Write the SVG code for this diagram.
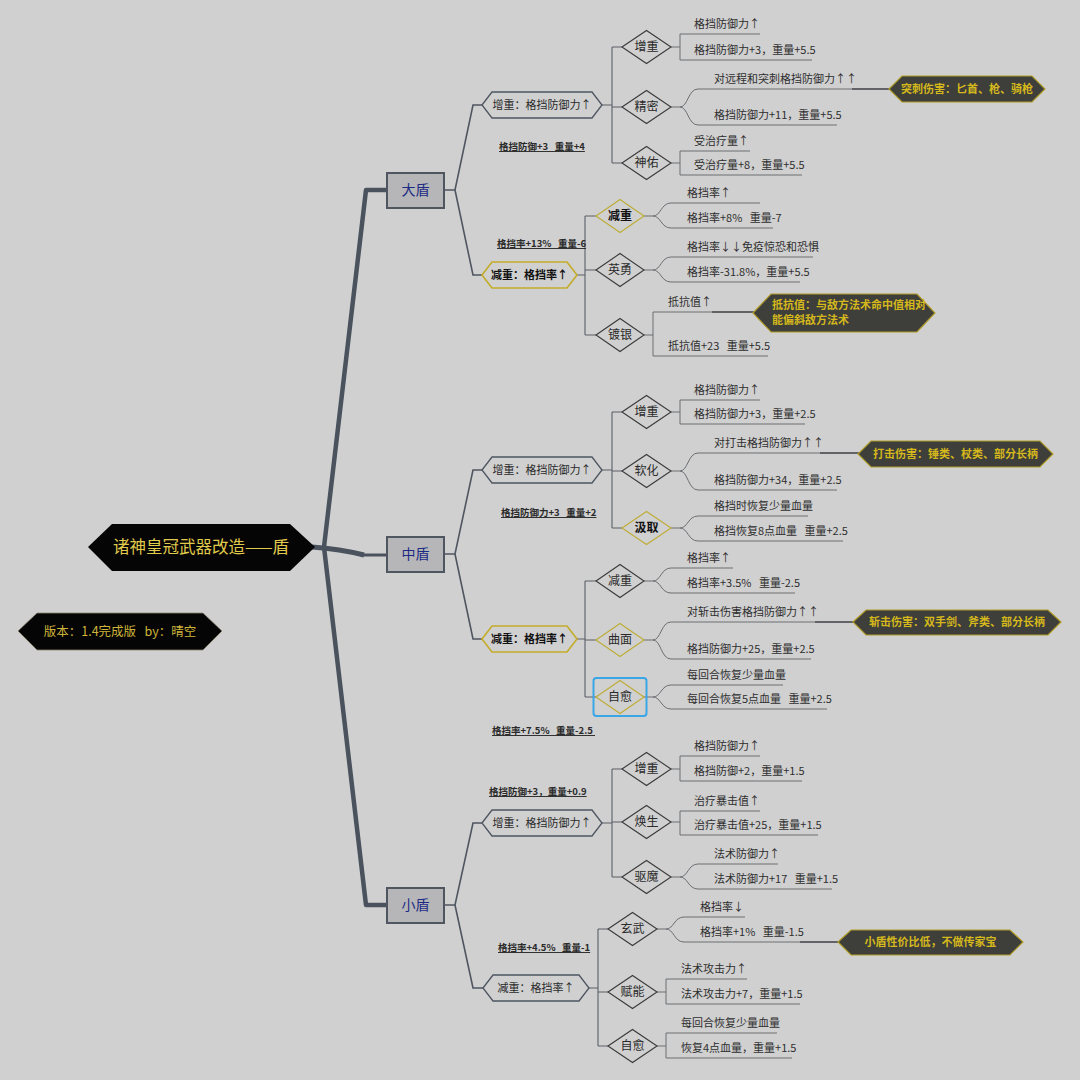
<svg xmlns="http://www.w3.org/2000/svg" width="1080" height="1080" viewBox="0 0 1080 1080">
<style>
text{font-family:"Noto Sans CJK SC","Noto Sans",sans-serif;white-space:pre}
.t{font-size:11px;fill:#2e2e2e}
.hx{fill:#d0d0d0;stroke:#4e5560;stroke-width:1.3}
.hxg{fill:#d0d0d0;stroke:#c2ac28;stroke-width:1.6}
.dm{fill:#d0d0d0;stroke:#3a3a3a;stroke-width:1.1}
.dmg{fill:#d0d0d0;stroke:#bfad3a;stroke-width:1.2}
.dt{font-size:12px;fill:#2a2a2a;text-anchor:middle}
.db{font-size:12px;fill:#111;font-weight:bold;text-anchor:middle}
.ht{font-size:11px;fill:#2a2a2a;text-anchor:middle}
.hb{font-size:11px;fill:#111;font-weight:bold;text-anchor:middle}
.lb{font-size:9.5px;fill:#2a2a2a;font-weight:bold;text-decoration:underline}
.box{fill:#b6b6b8;stroke:#4f5660;stroke-width:2}
.bt{font-size:14px;fill:#1c2c84;text-anchor:middle}
.co{fill:#3e3e3b;stroke:#b09c28;stroke-width:1.2}
.ct{font-size:11px;fill:#d4b81c;font-weight:bold}
.l1{fill:none;stroke:#4f5660;stroke-width:1.6}
.l2{fill:none;stroke:#5a5f66;stroke-width:1.1}
.lf{fill:none;stroke:#6b6e72;stroke-width:1}
.dk{fill:none;stroke:#3c3f44;stroke-width:1.5}
</style>
<rect width="1080" height="1080" fill="#d0d0d0"/>

<g id="connectors">
  <path d="M324,547 L366,190 L387,190" fill="none" stroke="#4a525e" stroke-width="4.5" stroke-linejoin="round"/>
  <path d="M324,547 L366,905 L387,905" fill="none" stroke="#4a525e" stroke-width="4.5" stroke-linejoin="round"/>
  <path d="M312,547 Q340,549 364,555" fill="none" stroke="#4a525e" stroke-width="5"/>
  <path d="M362,555 L387,555" fill="none" stroke="#4a525e" stroke-width="3"/>
  <path class="l1" d="M444,190 L455,190 L473,105 L482,105 M455,190 L473,275 L482,275"/>
  <path class="l1" d="M444,554 L455,554 L473,470 L482,470 M455,554 L473,639 L482,639"/>
  <path class="l1" d="M444,905 L455,905 L473,823 L482,823 M455,905 L473,988 L483,988"/>
  <path class="l2" d="M602,105 L612,105 M612,47 L612,163 M612,47 L622,47 M612,107 L622,107 M612,163 L622,163"/>
  <path class="l2" d="M577,275 L585,275 M585,216 L585,335 M585,216 L596,216 M585,270 L596,270 M585,335 L596,335"/>
  <path class="l2" d="M602,470 L612,470 M612,412 L612,528 M612,412 L622,412 M612,471 L622,471 M612,528 L622,528"/>
  <path class="l2" d="M577,639 L585,639 M585,581 L585,697 M585,581 L596,581 M585,640 L596,640 M585,697 L596,697"/>
  <path class="l2" d="M602,823 L612,823 M612,769 L612,877 M612,769 L622,769 M612,822 L622,822 M612,877 L622,877"/>
  <path class="l2" d="M589,988 L598,988 M598,929 L598,1046 M598,929 L608,929 M598,992 L608,992 M598,1046 L608,1046"/>

  <path class="lf" d="M671,47 L680,47 M680,34 L680,60 M680,34 L760,34 M680,60 L812,60"/>
  <path class="lf" d="M671,107 L680,107 C688,107 688,89 698,89 L852,89 M680,107 C688,107 688,125 698,125 L837,125"/>
  <path class="dk" d="M852,89 L890,89"/>
  <path class="lf" d="M671,163 L680,163 M680,151 L680,175 M680,151 L750,151 M680,175 L802,175"/>
  <path class="lf" d="M644,216 L653,216 C661,216 661,203 671,203 L760,203 M653,216 C661,216 661,228 671,228 L773,228"/>
  <path class="lf" d="M644,270 L653,270 C661,270 661,257 671,257 L813,257 M653,270 C661,270 661,282 671,282 L800,282"/>
  <path class="lf" d="M644,335 L653,335 M653,312 L653,356 M653,312 L712,312 M653,356 L768,356"/>
  <path class="dk" d="M712,312 L754,312"/>
  <path class="lf" d="M671,412 L680,412 M680,400 L680,424 M680,400 L760,400 M680,424 L805,424"/>
  <path class="lf" d="M671,471 L680,471 C688,471 688,453 698,453 L820,453 M680,471 C688,471 688,490 698,490 L837,490"/>
  <path class="dk" d="M820,453 L859,453"/>
  <path class="lf" d="M671,528 L680,528 C688,528 688,516 698,516 L808,516 M680,528 C688,528 688,541 698,541 L843,541"/>
  <path class="lf" d="M644,581 L653,581 C661,581 661,568 671,568 L733,568 M653,581 C661,581 661,593 671,593 L795,593"/>
  <path class="lf" d="M644,640 L653,640 C661,640 661,622 671,622 L815,622 M653,640 C661,640 661,659 671,659 L811,659"/>
  <path class="dk" d="M815,622 L854,622"/>
  <path class="lf" d="M644,697 L653,697 C661,697 661,685 671,685 L783,685 M653,697 C661,697 661,709 671,709 L827,709"/>
  <path class="lf" d="M671,769 L680,769 M680,756 L680,781 M680,756 L760,756 M680,781 L802,781"/>
  <path class="lf" d="M671,822 L680,822 M680,811 L680,835 M680,811 L760,811 M680,835 L818,835"/>
  <path class="lf" d="M671,877 L680,877 C688,877 688,864 698,864 L778,864 M680,877 C688,877 688,889 698,889 L832,889"/>
  <path class="lf" d="M657,929 L666,929 C674,929 674,917 684,917 L745,917 M666,929 C674,929 674,942 684,942 L800,942"/>
  <path class="dk" d="M800,942 L839,942"/>
  <path class="lf" d="M657,992 L666,992 M666,979 L666,1004 M666,979 L747,979 M666,1004 L800,1004"/>
  <path class="lf" d="M657,1046 L666,1046 M666,1033 L666,1058 M666,1033 L777,1033 M666,1058 L792,1058"/>
</g>

<g id="root">
  <polygon points="88,547 112,524 290,524 315,547 290,571 112,571" fill="#050505"/>
  <text x="201" y="553" font-size="16.5" fill="#e0cb4c" text-anchor="middle">诸神皇冠武器改造——盾</text>
</g>
<g id="version">
  <polygon points="18,631 37,613 203,613 222,631 203,650 37,650" fill="#050505" stroke="#8a8470" stroke-width="0.8"/>
  <text x="120" y="636" font-size="12.5" fill="#cdb43a" text-anchor="middle">版本：1.4完成版   by：晴空</text>
</g>

<g id="dadun"><rect class="box" x="387" y="173" width="57" height="35"/><text class="bt" x="415.5" y="195">大盾</text></g>
<g id="zhongdun"><rect class="box" x="387" y="537" width="57" height="35"/><text class="bt" x="415.5" y="559">中盾</text></g>
<g id="xiaodun"><rect class="box" x="387" y="888" width="57" height="35"/><text class="bt" x="415.5" y="910">小盾</text></g>

<g id="d-zz"><polygon class="hx" points="482,105 492,92 592,92 602,105 592,118 492,118"/><text class="ht" x="542" y="109">增重：格挡防御力↑</text></g>
<g id="d-zz-lbl"><text class="lb" x="499" y="150">格挡防御+3   重量+4</text></g>
<g id="d-jz"><polygon class="hxg" points="482,275 492,262 567,262 577,275 567,288 492,288"/><text class="hb" x="529.5" y="279">减重：格挡率↑</text></g>
<g id="d-jz-lbl"><text class="lb" x="497" y="247">格挡率+13%   重量-6</text></g>

<g id="d-zz1"><polygon class="dm" points="622,47 646.5,30.5 671,47 646.5,63.5"/><text class="dt" x="646.5" y="51">增重</text>
  <text class="t" x="694" y="28">格挡防御力↑</text><text class="t" x="694" y="54">格挡防御力+3，重量+5.5</text></g>
<g id="d-jm"><polygon class="dm" points="622,107 646.5,90.5 671,107 646.5,123.5"/><text class="dt" x="646.5" y="111">精密</text>
  <text class="t" x="714" y="83">对远程和突刺格挡防御力↑↑</text><text class="t" x="714" y="119">格挡防御力+11，重量+5.5</text></g>
<g id="d-sy"><polygon class="dm" points="622,163 646.5,146.5 671,163 646.5,179.5"/><text class="dt" x="646.5" y="167">神佑</text>
  <text class="t" x="694" y="145">受治疗量↑</text><text class="t" x="694" y="169">受治疗量+8，重量+5.5</text></g>
<g id="d-jz1"><polygon class="dmg" points="596,216 620,199.5 644,216 620,232.5"/><text class="db" x="620" y="220">减重</text>
  <text class="t" x="687" y="197">格挡率↑</text><text class="t" x="687" y="222">格挡率+8%   重量-7</text></g>
<g id="d-yy"><polygon class="dm" points="596,270 620,253.5 644,270 620,286.5"/><text class="dt" x="620" y="274">英勇</text>
  <text class="t" x="687" y="251">格挡率↓↓免疫惊恐和恐惧</text><text class="t" x="687" y="276">格挡率-31.8%，重量+5.5</text></g>
<g id="d-dy"><polygon class="dm" points="596,335 620,318.5 644,335 620,351.5"/><text class="dt" x="620" y="339">镀银</text>
  <text class="t" x="668" y="306">抵抗值↑</text><text class="t" x="668" y="350">抵抗值+23   重量+5.5</text></g>

<g id="z-zz"><polygon class="hx" points="482,470 492,457 592,457 602,470 592,483 492,483"/><text class="ht" x="542" y="474">增重：格挡防御力↑</text></g>
<g id="z-zz-lbl"><text class="lb" x="501" y="516">格挡防御力+3   重量+2</text></g>
<g id="z-jz"><polygon class="hxg" points="482,639 492,626 567,626 577,639 567,652 492,652"/><text class="hb" x="529.5" y="643">减重：格挡率↑</text></g>
<g id="z-jz-lbl"><text class="lb" x="492" y="734">格挡率+7.5%   重量-2.5 </text></g>

<g id="z-zz1"><polygon class="dm" points="622,412 646.5,395.5 671,412 646.5,428.5"/><text class="dt" x="646.5" y="416">增重</text>
  <text class="t" x="694" y="394">格挡防御力↑</text><text class="t" x="694" y="418">格挡防御力+3，重量+2.5</text></g>
<g id="z-rh"><polygon class="dm" points="622,471 646.5,454.5 671,471 646.5,487.5"/><text class="dt" x="646.5" y="475">软化</text>
  <text class="t" x="714" y="447">对打击格挡防御力↑↑</text><text class="t" x="714" y="484">格挡防御力+34，重量+2.5</text></g>
<g id="z-jq"><polygon class="dmg" points="622,528 646.5,511.5 671,528 646.5,544.5"/><text class="db" x="646.5" y="532">汲取</text>
  <text class="t" x="714" y="510">格挡时恢复少量血量</text><text class="t" x="714" y="535">格挡恢复8点血量   重量+2.5</text></g>
<g id="z-jz1"><polygon class="dm" points="596,581 620,564.5 644,581 620,597.5"/><text class="dt" x="620" y="585">减重</text>
  <text class="t" x="687" y="562">格挡率↑</text><text class="t" x="687" y="587">格挡率+3.5%   重量-2.5</text></g>
<g id="z-qm"><polygon class="dmg" points="596,640 620,623.5 644,640 620,656.5"/><text class="dt" x="620" y="644">曲面</text>
  <text class="t" x="687" y="616">对斩击伤害格挡防御力↑↑</text><text class="t" x="687" y="653">格挡防御力+25，重量+2.5</text></g>
<g id="z-zy"><rect x="593.5" y="678" width="53" height="38" rx="3" fill="none" stroke="#3aa6e6" stroke-width="2"/><polygon class="dmg" points="596,697 620,680.5 644,697 620,713.5"/><text class="dt" x="620" y="701">自愈</text>
  <text class="t" x="687" y="679">每回合恢复少量血量</text><text class="t" x="687" y="703">每回合恢复5点血量   重量+2.5</text></g>

<g id="x-zz"><polygon class="hx" points="482,823 492,810 592,810 602,823 592,836 492,836"/><text class="ht" x="542" y="827">增重：格挡防御力↑</text></g>
<g id="x-zz-lbl"><text class="lb" x="489" y="795">格挡防御+3，重量+0.9</text></g>
<g id="x-jz"><polygon class="hx" points="483,988 493,975 579,975 589,988 579,1001 493,1001"/><text class="ht" x="536" y="992">减重：格挡率↑</text></g>
<g id="x-jz-lbl"><text class="lb" x="498" y="951">格挡率+4.5%   重量-1</text></g>

<g id="x-zz1"><polygon class="dm" points="622,769 646.5,752.5 671,769 646.5,785.5"/><text class="dt" x="646.5" y="773">增重</text>
  <text class="t" x="694" y="750">格挡防御力↑</text><text class="t" x="694" y="775">格挡防御+2，重量+1.5</text></g>
<g id="x-hs"><polygon class="dm" points="622,822 646.5,805.5 671,822 646.5,838.5"/><text class="dt" x="646.5" y="826">焕生</text>
  <text class="t" x="694" y="805">治疗暴击值↑</text><text class="t" x="694" y="829">治疗暴击值+25，重量+1.5</text></g>
<g id="x-qm"><polygon class="dm" points="622,877 646.5,860.5 671,877 646.5,893.5"/><text class="dt" x="646.5" y="881">驱魔</text>
  <text class="t" x="714" y="858">法术防御力↑</text><text class="t" x="714" y="883">法术防御力+17   重量+1.5</text></g>
<g id="x-xw"><polygon class="dm" points="608,929 632.5,912.5 657,929 632.5,945.5"/><text class="dt" x="632.5" y="933">玄武</text>
  <text class="t" x="700" y="911">格挡率↓</text><text class="t" x="700" y="936">格挡率+1%   重量-1.5</text></g>
<g id="x-fn"><polygon class="dm" points="608,992 632.5,975.5 657,992 632.5,1008.5"/><text class="dt" x="632.5" y="996">赋能</text>
  <text class="t" x="681" y="973">法术攻击力↑</text><text class="t" x="681" y="998">法术攻击力+7，重量+1.5</text></g>
<g id="x-zy"><polygon class="dm" points="608,1046 632.5,1029.5 657,1046 632.5,1062.5"/><text class="dt" x="632.5" y="1050">自愈</text>
  <text class="t" x="681" y="1027">每回合恢复少量血量</text><text class="t" x="681" y="1052">恢复4点血量，重量+1.5</text></g>

<g id="c-tuci"><polygon class="co" points="889,89 902,76 1032,76 1045,89 1032,102 902,102"/><text class="ct" x="967" y="93" text-anchor="middle">突刺伤害：匕首、枪、骑枪</text></g>
<g id="c-dikang"><polygon class="co" points="753,313 771,294 917,294 935,313 917,332 771,332"/><text class="ct" x="772" y="309" font-size="10.3">抵抗值：与敌方法术命中值相对</text><text class="ct" x="772" y="324" font-size="10.3">能偏斜敌方法术</text></g>
<g id="c-daji"><polygon class="co" points="858,454 871,441 1040,441 1053,454 1040,467 871,467"/><text class="ct" x="955.5" y="458" text-anchor="middle">打击伤害：锤类、杖类、部分长柄</text></g>
<g id="c-zhanji"><polygon class="co" points="853,622 866,610 1048,610 1061,622 1048,635 866,635"/><text class="ct" x="957" y="626" text-anchor="middle">斩击伤害：双手剑、斧类、部分长柄</text></g>
<g id="c-xiaodun"><polygon class="co" points="838,942 851,930 1010,930 1023,942 1010,955 851,955"/><text class="ct" x="930.5" y="946" text-anchor="middle">小盾性价比低，不做传家宝</text></g>
</svg>
